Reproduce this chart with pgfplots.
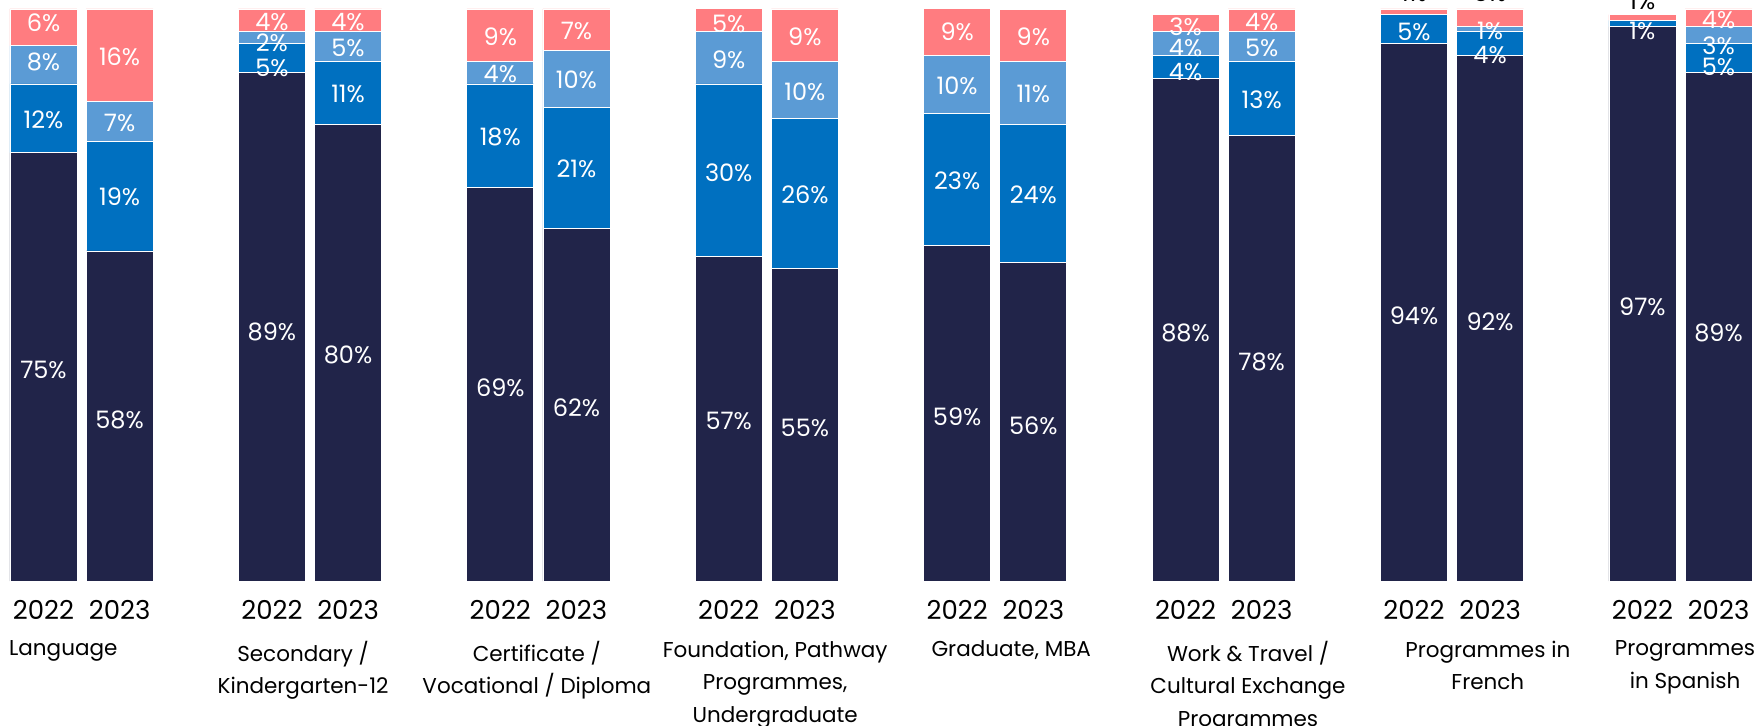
\documentclass[border=0pt]{standalone}
\usepackage{fontspec}
\setmainfont{Poppins}
\usepackage{pgfplots}
\pgfplotsset{compat=1.18}

\definecolor{navy}{HTML}{212449}
\definecolor{midblue}{HTML}{0070C0}
\definecolor{lightblue}{HTML}{5B9BD5}
\definecolor{salmon}{HTML}{FF7C80}

% shared frame for bars and labels
\pgfplotsset{
  base/.style={
    width=878.5pt, height=290.5pt, scale only axis,
    xmin=-0.5713, xmax=22.505, ymin=0, ymax=101.57,
    axis line style={draw=none}, tick style={draw=none},
    ytick=\empty, clip=false,
  },
  lbl/.style={
    draw=none, mark=none,
    point meta=explicit symbolic,
    nodes near coords={\pgfplotspointmeta\%},
    every node near coord/.style={anchor=center, inner sep=0pt,
      text=#1, font=\fontsize{12}{14}\selectfont},
  },
}

\begin{document}
\begin{tikzpicture}
\begin{axis}[base,
  ybar stacked, bar width=0.88,
  xtick={0,1,3,4,6,7,9,10,12,13,15,16,18,19,21,22},
  xticklabels={2022,2023,2022,2023,2022,2023,2022,2023,2022,2023,2022,2023,2022,2023,2022,2023},
  xticklabel style={anchor=center, yshift=-14.25pt, font=\fontsize{13}{16}\selectfont},
  every axis plot/.append style={draw=white, line width=0.4pt},
]
% 2022 / 2023 pairs, one group every 3 units
\addplot[fill=navy] coordinates {(0,74.9) (1,57.7) (3,88.9) (4,79.8) (6,68.8) (7,61.7) (9,56.7) (10,54.6) (12,58.7) (13,55.7) (15,87.9) (16,77.9) (18,94.0) (19,91.9) (21,96.9) (22,88.9)};
\addplot[fill=midblue] coordinates {(0,12.0) (1,19.1) (3,5.0) (4,11.1) (6,18.1) (7,21.1) (9,30.2) (10,26.2) (12,23.1) (13,24.1) (15,4.0) (16,13.0) (18,5.0) (19,4.1) (21,1.1) (22,5.0)};
\addplot[fill=lightblue] coordinates {(0,6.7) (1,7.0) (3,2.1) (4,5.1) (6,4.0) (7,10.0) (9,9.1) (10,10.1) (12,10.1) (13,11.1) (15,4.1) (16,5.1) (18,0) (19,1.0) (21,0) (22,3.0)};
\addplot[fill=salmon] coordinates {(0,6.4) (1,16.2) (3,4.0) (4,4.0) (6,9.1) (7,7.2) (9,4.1) (10,9.1) (12,8.2) (13,9.0) (15,3.0) (16,4.0) (18,1.0) (19,3.0) (21,1.0) (22,3.1)};
\end{axis}

\begin{axis}[base, xtick=\empty]
% value labels
\addplot[lbl=white] table[meta=l] {
x y l
0 97.5 6
0 90.7 8
0 80.6 12
0 36.9 75
1 91.6 16
1 80.0 7
1 67.1 19
1 28.1 58
3 97.7 4
3 94.1 2
3 89.7 5
3 43.6 89
4 97.7 4
4 93.1 5
4 85.1 11
4 39.5 80
6 95.2 9
6 88.6 4
6 77.6 18
6 33.8 69
7 96.2 7
7 87.6 10
7 72.0 21
7 30.3 62
9 97.4 5
9 91.1 9
9 71.4 30
9 27.9 57
10 95.2 9
10 85.5 10
10 67.5 26
10 26.7 55
12 96.0 9
12 86.5 10
12 69.9 23
12 28.7 59
13 95.2 9
13 85.1 11
13 67.5 24
13 27.1 56
15 96.9 3
15 93.2 4
15 89.0 4
15 43.4 88
16 97.8 4
16 93.1 5
16 84.2 13
16 38.3 78
18 96.0 5
18 46.3 94
19 96.2 1
19 92.0 4
19 45.3 92
21 96.2 1
21 47.9 97
22 98.0 4
22 93.5 3
22 89.8 5
22 43.4 89
};
\addplot[lbl=black] table[meta=l] {
x y l
18 102.85 1
19 102.85 3
21 101.4 1
};

% category names
\tikzset{cat/.style={anchor=north, align=center, inner sep=0pt,
  font=\fontsize{10.75}{16.25}\selectfont}}
\node[cat] at (axis cs:0.26,-10.4) {Language};
\node[cat] at (axis cs:3.41,-10.4) {Secondary /\\Kindergarten-12};
\node[cat] at (axis cs:6.48,-10.4) {Certificate /\\Vocational / Diploma};
\node[cat] at (axis cs:9.61,-10.4) {Foundation, Pathway\\Programmes,\\Undergraduate};
\node[cat] at (axis cs:12.71,-10.4) {Graduate, MBA};
\node[cat] at (axis cs:15.82,-10.4) {Work \& Travel /\\Cultural Exchange\\Programmes};
\node[cat] at (axis cs:18.97,-10.4) {Programmes in\\French};
\node[cat] at (axis cs:21.56,-10.4) {Programmes\\in Spanish};
\end{axis}
\pgfresetboundingbox
\path[use as bounding box] ([yshift=-72pt]current axis.south west) rectangle (current axis.north east);
\end{tikzpicture}
\end{document}
